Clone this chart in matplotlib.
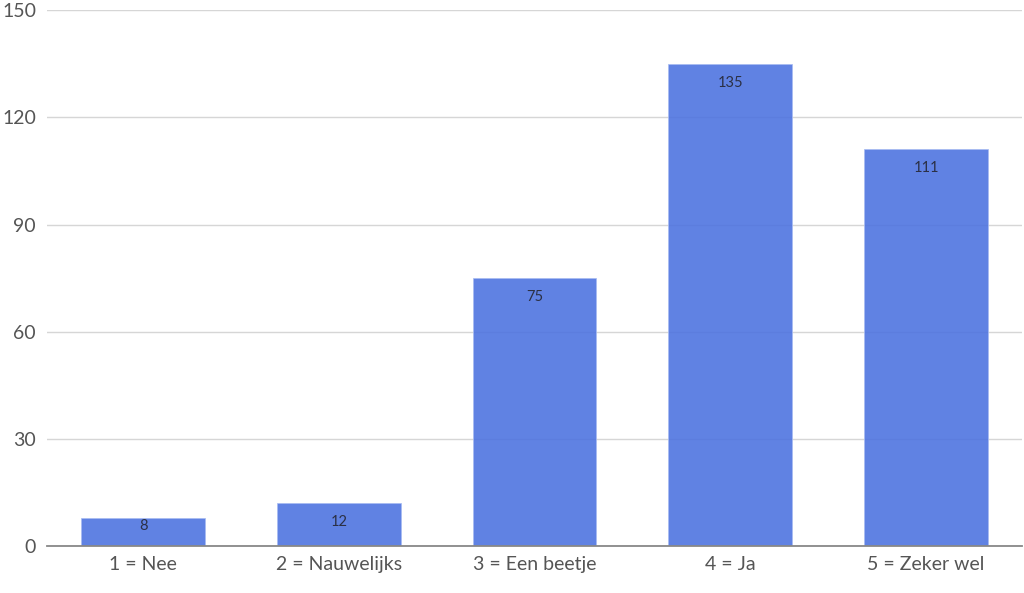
import matplotlib.pyplot as plt

plt.rcParams['font.family'] = ['Lato', 'DejaVu Sans']

categories = ['1 = Nee', '2 = Nauwelijks', '3 = Een beetje', '4 = Ja', '5 = Zeker wel']
counts = [8, 12, 75, 135, 111]
yticks = [0, 30, 60, 90, 120, 150]

fig = plt.figure(figsize=(10.24, 5.93), dpi=100)
ax = fig.add_axes([0.046, 0.079, 0.952, 0.904])

ax.set_axisbelow(True)
ax.grid(axis='y', color='#d6d6d6', linewidth=1)
bars = ax.bar(range(len(categories)), counts, width=0.633, color='#4f74e0',
              alpha=0.9, edgecolor='#a8bcf2', linewidth=0.6, zorder=2)

# value labels just inside the top of each bar, but kept off the baseline
for b, v in zip(bars, counts):
    ax.text(b.get_x() + b.get_width() / 2, max(v - 5.3, 5.6), str(v),
            ha='center', va='center', fontsize=10.5, color='#2b3045', zorder=3)

ax.set_xlim(-0.49, 4.49)
ax.set_ylim(0, 150)
ax.set_yticks(yticks)
ax.set_xticks(range(len(categories)))
ax.set_xticklabels(categories)
ax.tick_params(axis='both', length=0, labelsize=14, colors='#555555')
ax.tick_params(axis='x', pad=7)
ax.tick_params(axis='y', pad=8)

for s in ['top', 'right', 'left']:
    ax.spines[s].set_visible(False)
ax.spines['bottom'].set_color('#888888')
ax.spines['bottom'].set_linewidth(1.3)
ax.spines['bottom'].set_zorder(4)

fig.savefig('out.png', dpi=100)
